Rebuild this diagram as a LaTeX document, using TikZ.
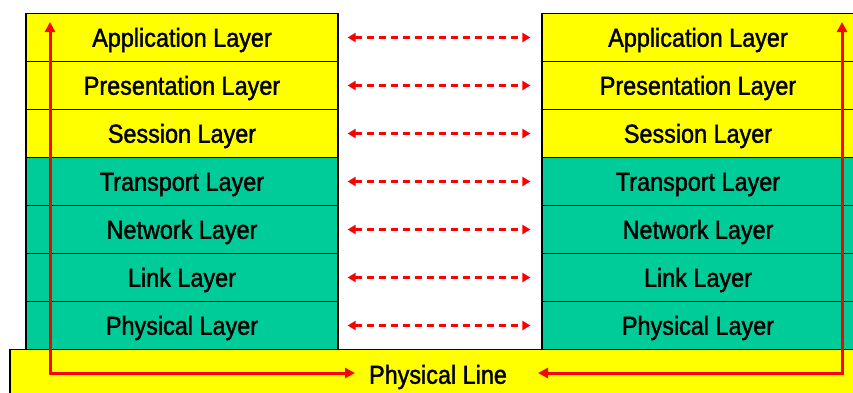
\documentclass[tikz,border=0pt]{standalone}
\usepackage{fontspec}
\setmainfont[FakeStretch=0.9, FakeBold=1.5]{Liberation Sans}
\usepackage{tikz}
\usetikzlibrary{arrows.meta, calc}

\definecolor{ylw}{HTML}{FFFF00}
\definecolor{grn}{HTML}{00CC99}

\tikzset{
    layer/.style={draw=black, line width=1.2pt, minimum width=312pt, minimum height=48pt,
        inner sep=0pt, text height=20.5pt, text depth=2pt, font=\fontsize{26}{30}\selectfont},
    upper/.style={layer, fill=ylw},
    lower/.style={layer, fill=grn},
    peer/.style={draw=red, line width=2.4pt, dash pattern=on 7pt off 5pt,
        {Triangle[length=8pt,width=9pt]}-{Triangle[length=8pt,width=9pt]},
        shorten <=9pt, shorten >=11pt},
    wire/.style={draw=red, line width=3pt,
        {Triangle[length=10pt,width=10pt]}-{Triangle[length=10pt,width=10pt]}}
}

\begin{document}
\begin{tikzpicture}[x=1pt, y=-1pt]
        \useasboundingbox (0,0) rectangle (853,392);
        \clip (0,0) rectangle (853,392);

        % physical medium
        \node[upper, minimum width=856pt, minimum height=50pt] (line) at (438,374.5) {Physical Line};

        % left stack
        \node[upper] (L_1) at (182,37.5) {Application Layer};
        \node[upper] (L_2) at (182,85.5) {Presentation Layer};
        \node[upper] (L_3) at (182,133.5) {Session Layer};
        \node[lower] (L_4) at (182,181.5) {Transport Layer};
        \node[lower] (L_5) at (182,229.5) {Network Layer};
        \node[lower] (L_6) at (182,277.5) {Link Layer};
        \node[lower] (L_7) at (182,325.5) {Physical Layer};

        % right stack
        \node[upper] (R_1) at (698,37.5) {Application Layer};
        \node[upper] (R_2) at (698,85.5) {Presentation Layer};
        \node[upper] (R_3) at (698,133.5) {Session Layer};
        \node[lower] (R_4) at (698,181.5) {Transport Layer};
        \node[lower] (R_5) at (698,229.5) {Network Layer};
        \node[lower] (R_6) at (698,277.5) {Link Layer};
        \node[lower] (R_7) at (698,325.5) {Physical Layer};

        % peer to peer
        \draw[peer] (L_1) -- (R_1);
        \draw[peer] (L_2) -- (R_2);
        \draw[peer] (L_3) -- (R_3);
        \draw[peer] (L_4) -- (R_4);
        \draw[peer] (L_5) -- (R_5);
        \draw[peer] (L_6) -- (R_6);
        \draw[peer] (L_7) -- (R_7);

        % data path
        \coordinate (A_top) at (50,22);
        \coordinate (A_bot) at (50,373);
        \coordinate (A_end) at (355,373);
        \coordinate (B_top) at (842,22);
        \coordinate (B_bot) at (842,373);
        \coordinate (B_end) at (538,373);

        \draw[wire] (A_top) -- (A_bot) -- (A_end);
        \draw[wire] (B_top) -- (B_bot) -- (B_end);
\end{tikzpicture}
\end{document}
